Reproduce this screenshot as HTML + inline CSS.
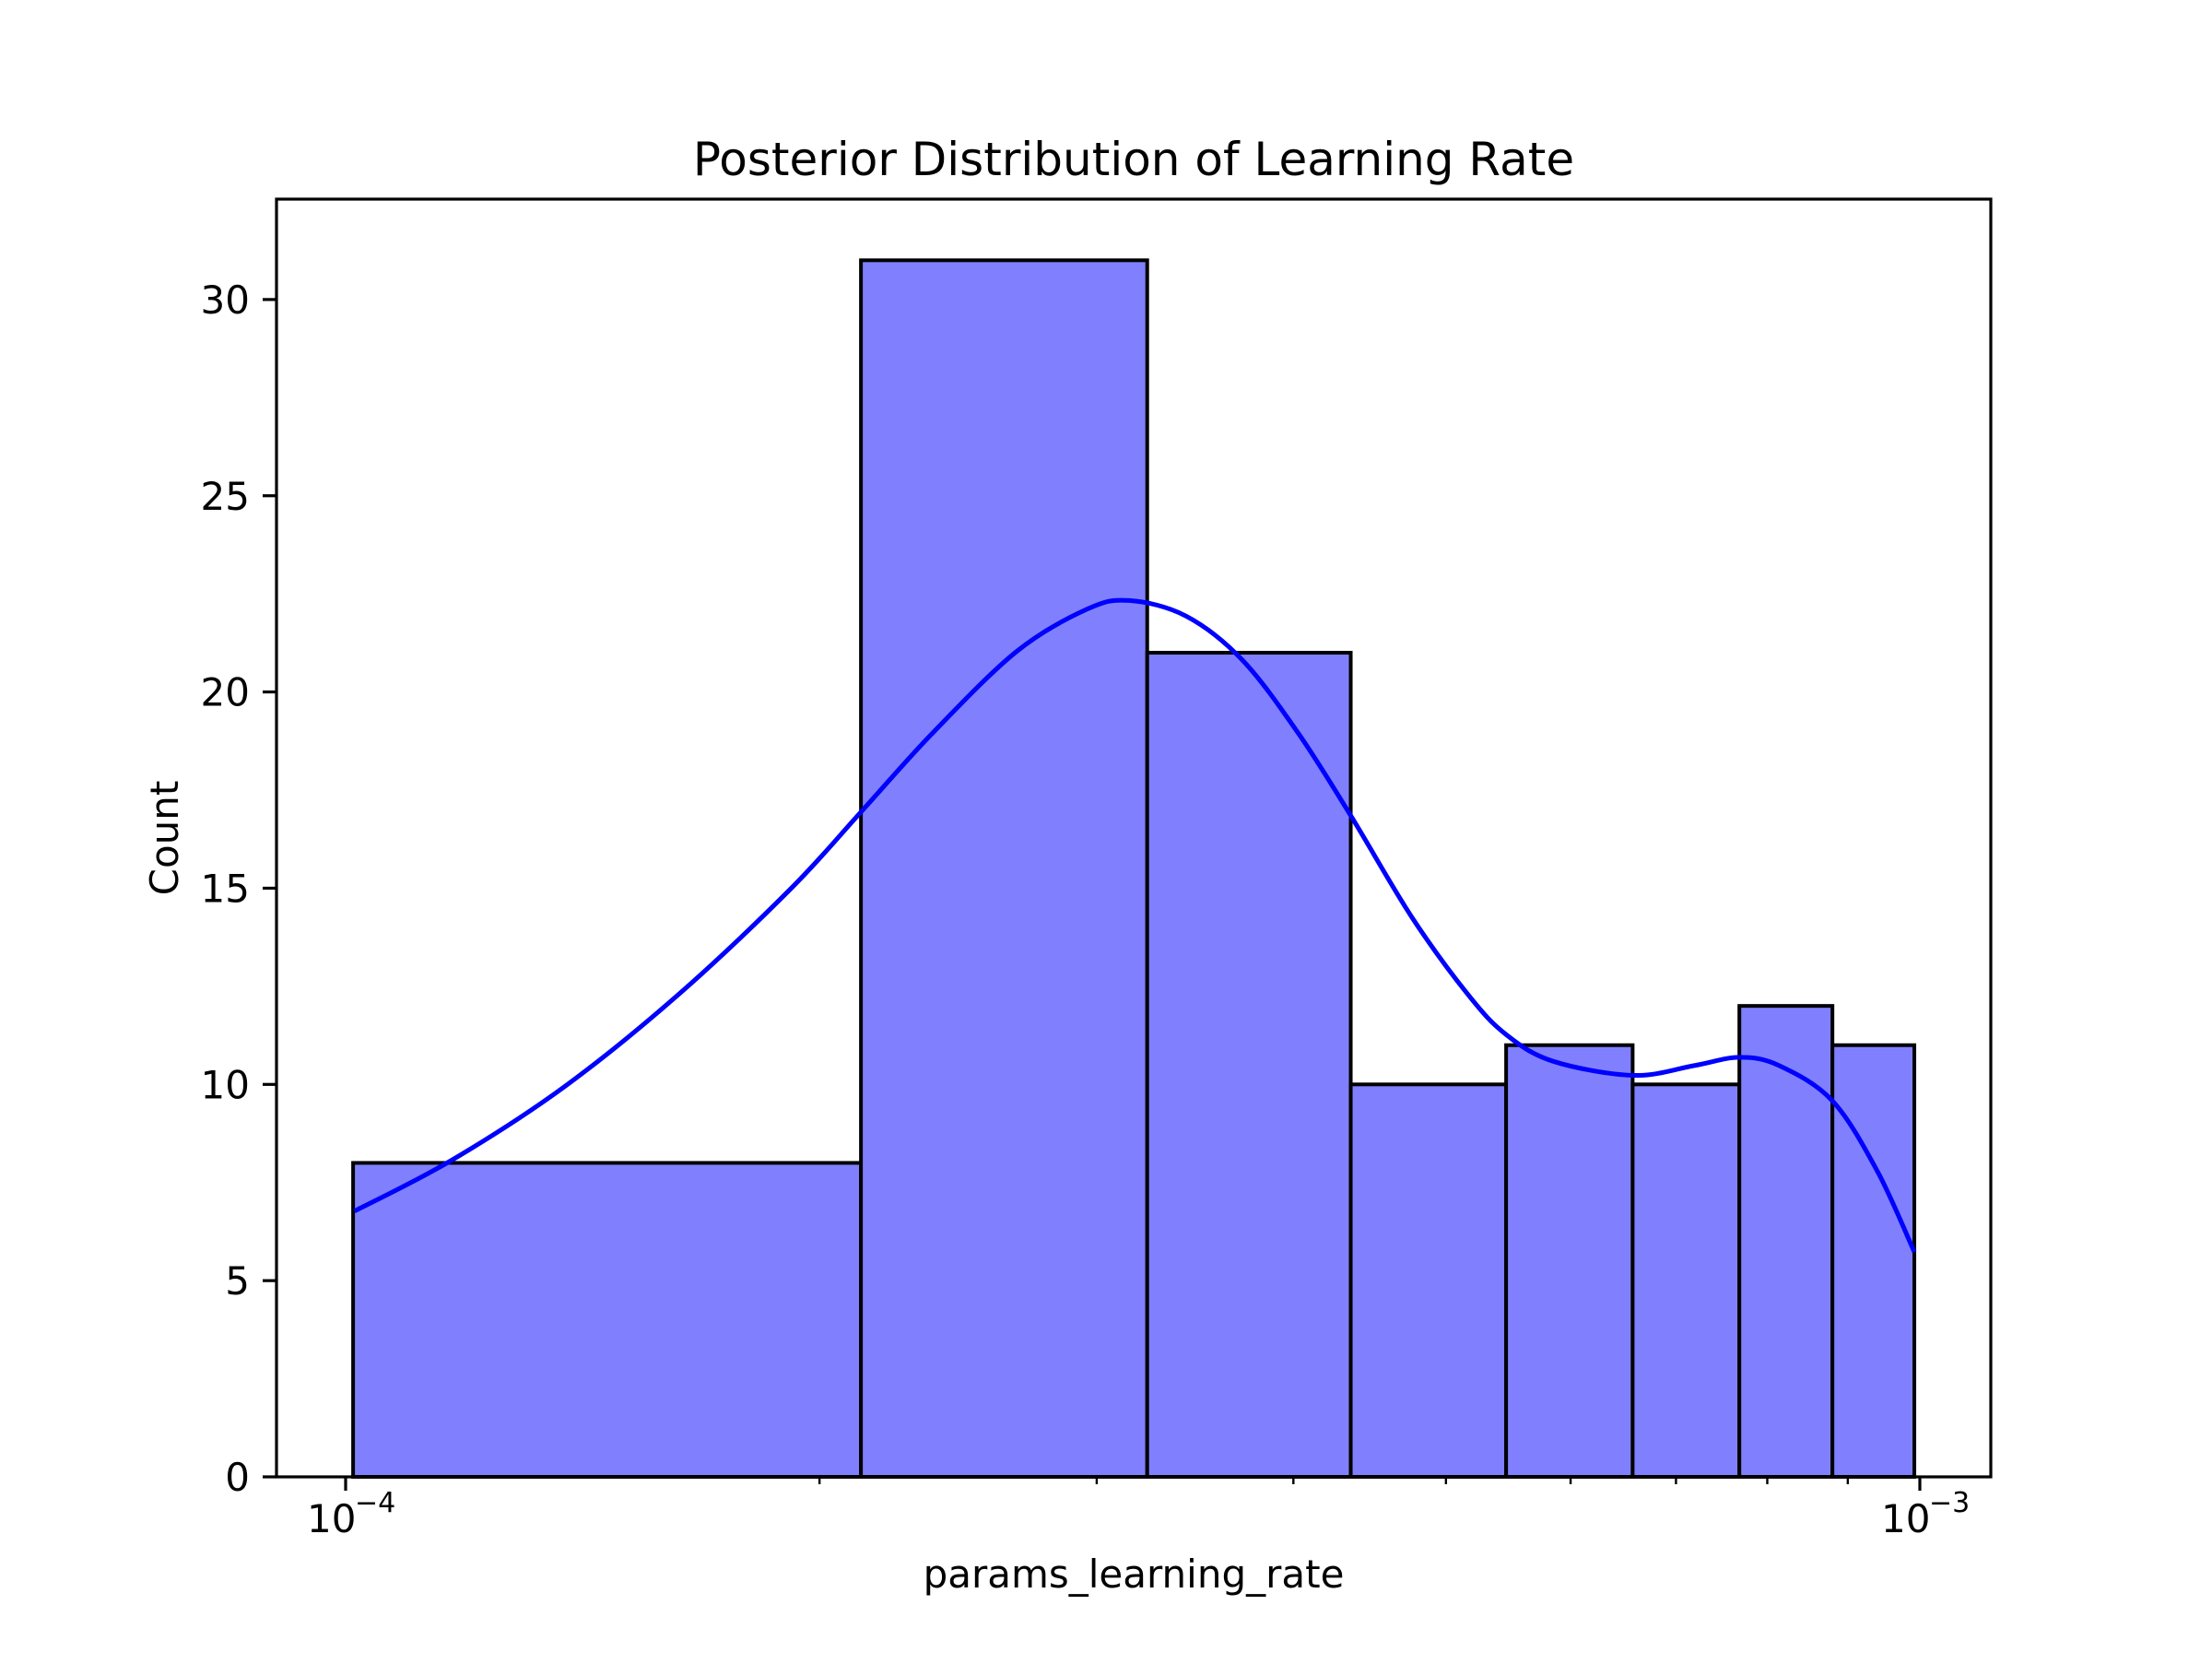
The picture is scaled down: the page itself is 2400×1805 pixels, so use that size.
<!DOCTYPE html>
<html><head><meta charset="utf-8"><style>
html,body{margin:0;padding:0;background:#fff;}
svg text{font-family:"DejaVu Sans","Liberation Sans",sans-serif;fill:#000;}
</style></head><body>
<svg id="chart" width="2400" height="1800" viewBox="0 0 2400 1800" xmlns="http://www.w3.org/2000/svg">
<rect x="0" y="0" width="2400" height="1800" fill="#fff"/>
<text x="1230" y="190" font-size="50" text-anchor="middle">Posterior Distribution of Learning Rate</text>
<g id="bars"></g>
<path id="kde" fill="none" stroke="#0000ff" stroke-width="5" stroke-linejoin="round"/>
<g id="axes"></g>
<rect x="300" y="216" width="1860" height="1386" fill="none" stroke="#000" stroke-width="3.2"/>
<text x="1230" y="1722" font-size="42" text-anchor="middle">params_learning_rate</text>
<text transform="translate(193,909) rotate(-90)" font-size="42" text-anchor="middle">Count</text>
</svg>
<script>
const binEdges = [1.011e-4, 2.125e-4, 3.23e-4, 4.35e-4, 5.46e-4, 6.57e-4, 7.68e-4, 8.80e-4, 9.92e-4];
const counts = [8, 31, 21, 10, 11, 10, 12, 11];
const kdeX = [1.013e-4,1.168e-4,1.377e-4,1.626e-4,1.917e-4,2.127e-4,2.358e-4,2.668e-4,2.958e-4,3.147e-4,3.42e-4,3.713e-4,4.03e-4,4.35e-4,4.757e-4,5.166e-4,5.46e-4,5.848e-4,6.575e-4,7.19e-4,7.68e-4,8.14e-4,8.80e-4,9.40e-4,9.92e-4];
const kdeY = [6.77,8.07,9.94,12.28,14.98,16.96,18.94,21.03,22.11,22.33,21.93,20.81,18.94,16.85,14.26,12.28,11.27,10.59,10.23,10.48,10.69,10.48,9.58,7.78,5.73];
const yTicks = [0, 5, 10, 15, 20, 25, 30];
const xMajorTicks = [-4, -3];
const xMinorTicks = [2e-4,3e-4,4e-4,5e-4,6e-4,7e-4,8e-4,9e-4];

const NS = "http://www.w3.org/2000/svg";
const X0 = 375, DEC = 1708, YB = 1602, YU = 42.57;
function xs(v){ return X0 + (Math.log10(v) + 4) * DEC; }
function ys(v){ return YB - v * YU; }
function mk(tag, attrs, parent){ const e = document.createElementNS(NS, tag); for (const k in attrs) e.setAttribute(k, attrs[k]); parent.appendChild(e); return e; }

const bars = document.getElementById('bars');
counts.forEach((c, i) => {
  const x1 = xs(binEdges[i]), x2 = xs(binEdges[i+1]);
  const r = mk('rect', {x: x1, y: ys(c), width: x2 - x1, height: YB - ys(c), fill: '#8080ff', stroke: '#000', 'stroke-width': 4}, bars);
  
  
});

const pts = kdeX.map((v, i) => [xs(v), ys(kdeY[i])]);
let d = 'M' + pts[0][0] + ',' + pts[0][1];
for (let i = 0; i < pts.length - 1; i++) {
  const p0 = pts[Math.max(0, i-1)], p1 = pts[i], p2 = pts[i+1], p3 = pts[Math.min(pts.length-1, i+2)];
  const c1 = [p1[0] + (p2[0]-p0[0])/6, p1[1] + (p2[1]-p0[1])/6];
  const c2 = [p2[0] - (p3[0]-p1[0])/6, p2[1] - (p3[1]-p1[1])/6];
  d += ' C' + c1 + ' ' + c2 + ' ' + p2;
}
document.getElementById('kde').setAttribute('d', d);

const axes = document.getElementById('axes');
yTicks.forEach(t => {
  const y = ys(t);
  const l = mk('line', {x1: 285, x2: 300, y1: y, y2: y, stroke: '#000', 'stroke-width': 3.2}, axes);
  
  
  const tx = mk('text', {x: 271, y: y + 15, 'font-size': 42, 'text-anchor': 'end'}, axes);
  tx.textContent = t;
  
  
});
xMajorTicks.forEach(e => {
  const x = xs(Math.pow(10, e));
  const l = mk('line', {x1: x, x2: x, y1: 1602, y2: 1617, stroke: '#000', 'stroke-width': 3.2}, axes);
  
  
  const tx = mk('text', {x: x - 42, y: 1662, 'font-size': 42}, axes);
  tx.textContent = '10';
  
  
  const sp = mk('text', {x: x + 10, y: 1640, 'font-size': 30}, axes);
  sp.textContent = '\u2212' + Math.abs(e);
  
  
});
xMinorTicks.forEach(v => {
  const x = xs(v);
  const l = mk('line', {x1: x, x2: x, y1: 1602, y2: 1610, stroke: '#000', 'stroke-width': 2.4}, axes);
  
  
});
</script>
</body></html>
